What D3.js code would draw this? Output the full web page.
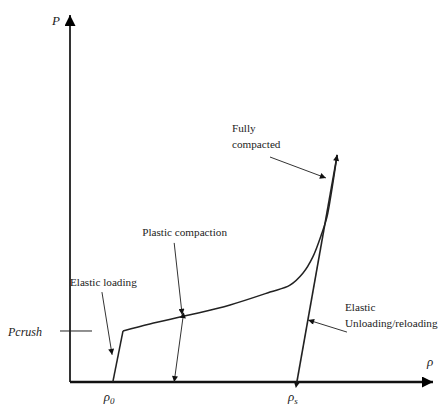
<!DOCTYPE html>
<html><head><meta charset="utf-8">
<script src="https://cdn.jsdelivr.net/npm/d3@7"></script>
<style>html,body{margin:0;padding:0;background:#fff;}svg{display:block;}</style>
</head><body>
<script>
// ---- data (rho, P in arbitrary units) ----
const curveRho = [1.18, 1.46, 2.20, 3.31, 4.41, 5.51, 6.06, 6.42, 6.69, 6.94, 7.08, 7.19, 7.36];
const curveP   = [0.00, 1.39, 1.58, 1.83, 2.10, 2.45, 2.64, 2.97, 3.41, 4.06, 4.50, 5.10, 6.19];
const unloadRho = [6.25, 7.36];
const unloadP   = [0.00, 6.19];
const pCrush = 1.39;
const rho0 = 1.18, rhoS = 6.25;
const annotLabels = ["Elastic loading", "Plastic compaction", "", "Fully|compacted", "Elastic|Unloading/reloading"];
const annotFrom = [[0.88, 2.45], [2.87, 3.79], [3.11, 1.74], [5.51, 6.13], [7.63, 1.36]];
const annotTo   = [[1.16, 0.74], [3.09, 1.83], [2.87, 0.00], [7.05, 5.56], [6.56, 1.69]];
const annotDouble = [false, false, true, false, false];

const W = 438, H = 405;
const svg = d3.select("body").append("svg").attr("width", W).attr("height", H);
const x = d3.scaleLinear().domain([0, 10]).range([70, 433]);
const y = d3.scaleLinear().domain([0, 10]).range([382, 15]);

const defs = svg.append("defs");
defs.append("marker").attr("id","ah").attr("viewBox","0 0 10 10").attr("refX",10).attr("refY",5)
  .attr("markerWidth",10).attr("markerHeight",6).attr("markerUnits","userSpaceOnUse").attr("orient","auto")
  .append("path").attr("d","M0,0L10,5L0,10Z").attr("fill","#111");
defs.append("marker").attr("id","ahs").attr("viewBox","0 0 10 10").attr("refX",0).attr("refY",5)
  .attr("markerWidth",10).attr("markerHeight",6).attr("markerUnits","userSpaceOnUse").attr("orient","auto-start-reverse")
  .append("path").attr("d","M0,0L10,5L0,10Z").attr("fill","#111");
defs.append("marker").attr("id","axh").attr("viewBox","0 0 10 10").attr("refX",10).attr("refY",5)
  .attr("markerWidth",13).attr("markerHeight",11).attr("markerUnits","userSpaceOnUse").attr("orient","auto")
  .append("path").attr("d","M0,0L10,5L0,10Z").attr("fill","#000");

// axes
const x0 = x.domain()[0], x1 = x.domain()[1], y0 = y.domain()[0], y1 = y.domain()[1];
svg.append("line").attr("x1", x(x0)).attr("y1", y(y0)).attr("x2", x(x0)).attr("y2", y(y1))
  .attr("stroke","#333").attr("stroke-width",2).attr("marker-end","url(#axh)");
svg.append("line").attr("x1", x(x0)).attr("y1", y(y0)).attr("x2", x(x1)).attr("y2", y(y0))
  .attr("stroke","#111").attr("stroke-width",2.4).attr("marker-end","url(#axh)");

// Pcrush tick
svg.append("line").attr("x1", x(x0)-10).attr("x2", x(x0)+22).attr("y1", y(pCrush)).attr("y2", y(pCrush))
  .attr("stroke","#222").attr("stroke-width",1);

const line = d3.line().x(d => x(d[0])).y(d => y(d[1])).curve(d3.curveCatmullRom.alpha(0.5));
const lineStraight = d3.line().x(d => x(d[0])).y(d => y(d[1]));
const pts = curveRho.map((r,i)=>[r, curveP[i]]);
svg.append("path").attr("d", lineStraight(pts.slice(0,2))).attr("fill","none").attr("stroke","#222").attr("stroke-width",1.5);
svg.append("path").attr("d", line(pts.slice(1))).attr("fill","none").attr("stroke","#222").attr("stroke-width",1.5);
svg.append("path").attr("d", lineStraight(unloadRho.map((r,i)=>[r, unloadP[i]])))
  .attr("fill","none").attr("stroke","#222").attr("stroke-width",1.6).attr("marker-end","url(#ah)").attr("marker-start","url(#ahs)");

// annotation arrows
annotFrom.forEach((f,i) => {
  const t = annotTo[i];
  const l = svg.append("line").attr("x1", x(f[0])).attr("y1", y(f[1])).attr("x2", x(t[0])).attr("y2", y(t[1]))
    .attr("stroke","#333").attr("stroke-width",1).attr("marker-end","url(#ah)");
  if (annotDouble[i]) l.attr("marker-start","url(#ahs)");
});

const font = "'Liberation Serif', 'Times New Roman', serif";
function label(px, py, lines, opts={}) {
  const t = svg.append("text").attr("x", px).attr("y", py).attr("font-family", font)
    .attr("font-size", opts.size || 11.2).attr("fill", "#222");
  if (opts.italic) t.attr("font-style","italic");
  lines.forEach((s,i) => t.append("tspan").attr("x", px).attr("dy", i ? 16 : 0).text(s));
  return t;
}
const labelAt = [[x(annotFrom[0][0]) - 32, y(annotFrom[0][1]) - 6],
                 [x(annotFrom[1][0]) - 32, y(annotFrom[1][1]) - 7],
                 null,
                 [x(annotFrom[3][0]) - 38, y(annotFrom[3][1]) - 25],
                 [x(annotFrom[4][0]) - 2, y(annotFrom[4][1]) - 21]];
annotLabels.forEach((s,i) => { if (s) label(labelAt[i][0], labelAt[i][1], s.split("|")); });

// axis labels
label(x(x0) - 18, y(y1) + 10, ["P"], {italic:true, size:13});
label(x(x1) - 6, y(y0) - 16, ["\u03c1"], {italic:true, size:13});
label(8, y(pCrush) + 5, ["Pcrush"], {italic:true, size:12});
function rhoLabel(v, sub) {
  const t = svg.append("text").attr("x", x(v) - 9).attr("y", y(y0) + 19).attr("font-family", font)
    .attr("font-size", 13).attr("font-style","italic").attr("fill","#222");
  t.append("tspan").text("\u03c1");
  t.append("tspan").attr("font-size", 9).attr("dy", 3).text(sub);
}
rhoLabel(rho0, "0");
rhoLabel(rhoS, "s");
</script>
</body></html>
